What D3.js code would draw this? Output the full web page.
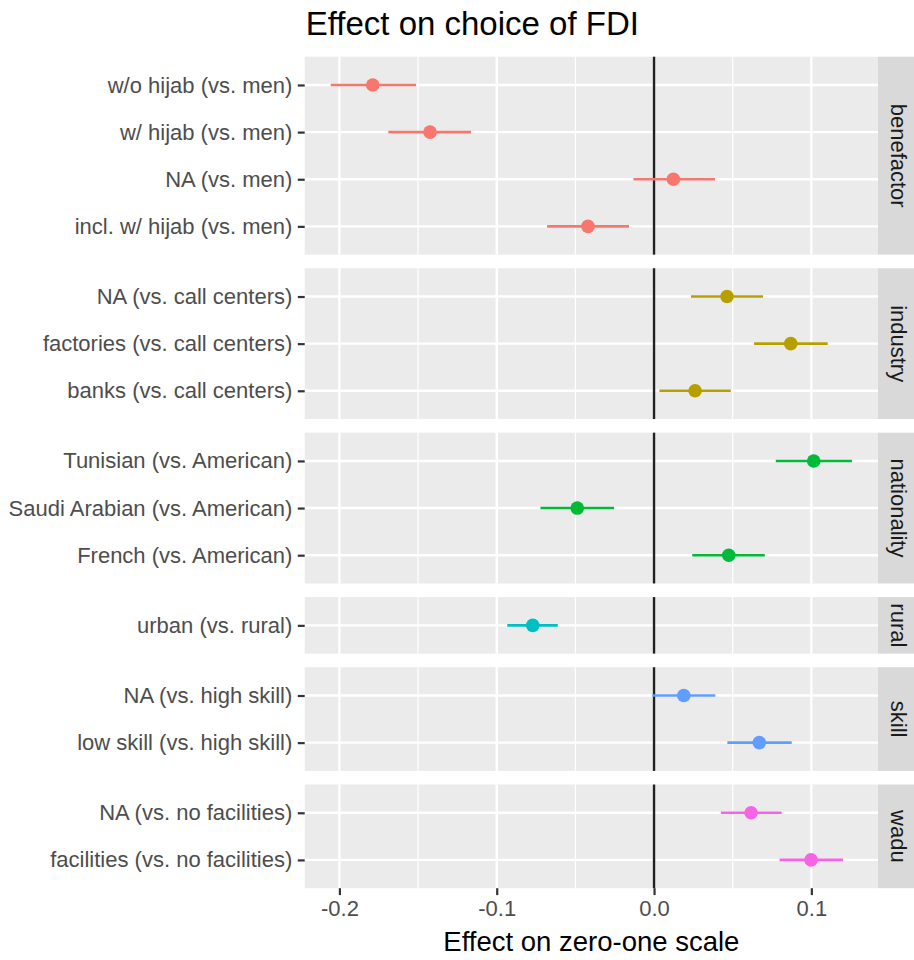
<!DOCTYPE html>
<html>
<head>
<meta charset="utf-8">
<script src="https://cdn.jsdelivr.net/npm/d3@7"></script>
<style>
  body { margin: 0; background: #fff; }
  svg { display: block; font-family: "Liberation Sans", Arial, sans-serif; }
</style>
</head>
<body>
<svg id="chart" width="914" height="960"></svg>
<script>
// ---- Data ----
const facets = ["benefactor", "industry", "nationality", "rural", "skill", "wadu"];
const facetColors = ["#F8766D", "#B79F00", "#00BA38", "#00BFC4", "#619CFF", "#F564E3"];

const benefactorLabels = ["w/o hijab (vs. men)", "w/ hijab (vs. men)", "NA (vs. men)", "incl. w/ hijab (vs. men)"];
const benefactorEst  = [-0.1788, -0.1424, 0.0123, -0.0420];
const benefactorLow  = [-0.2055, -0.1689, -0.0131, -0.0680];
const benefactorHigh = [-0.1513, -0.1163, 0.0388, -0.0159];

const industryLabels = ["NA (vs. call centers)", "factories (vs. call centers)", "banks (vs. call centers)"];
const industryEst  = [0.0464, 0.0869, 0.0261];
const industryLow  = [0.0235, 0.0636, 0.0034];
const industryHigh = [0.0693, 0.1104, 0.0488];

const nationalityLabels = ["Tunisian (vs. American)", "Saudi Arabian (vs. American)", "French (vs. American)"];
const nationalityEst  = [0.1015, -0.0488, 0.0475];
const nationalityLow  = [0.0774, -0.0722, 0.0243];
const nationalityHigh = [0.1258, -0.0254, 0.0704];

const ruralLabels = ["urban (vs. rural)"];
const ruralEst  = [-0.0771];
const ruralLow  = [-0.0933];
const ruralHigh = [-0.0612];

const skillLabels = ["NA (vs. high skill)", "low skill (vs. high skill)"];
const skillEst  = [0.0189, 0.0669];
const skillLow  = [-0.0011, 0.0466];
const skillHigh = [0.0390, 0.0875];

const waduLabels = ["NA (vs. no facilities)", "facilities (vs. no facilities)"];
const waduEst  = [0.0617, 0.0998];
const waduLow  = [0.0425, 0.0798];
const waduHigh = [0.0811, 0.1202];

const xTicks = [-0.2, -0.1, 0.0, 0.1];
const xMinorTicks = [-0.15, -0.05, 0.05];

const titleText = "Effect on choice of FDI";
const xTitleText = "Effect on zero-one scale";

// ---- Build panels ----
const groups = [
  [benefactorLabels, benefactorEst, benefactorLow, benefactorHigh],
  [industryLabels, industryEst, industryLow, industryHigh],
  [nationalityLabels, nationalityEst, nationalityLow, nationalityHigh],
  [ruralLabels, ruralEst, ruralLow, ruralHigh],
  [skillLabels, skillEst, skillLow, skillHigh],
  [waduLabels, waduEst, waduLow, waduHigh]
].map((g, i) => ({
  facet: facets[i],
  color: facetColors[i],
  rows: g[0].map((lab, j) => ({label: lab, est: g[1][j], low: g[2][j], high: g[3][j]}))
}));

// ---- Layout ----
const svg = d3.select("#chart");
const panelLeft = 304.7, panelRight = 878;
const panelTop = 56.7, panelBottom = 888.2;
const gap = 13.6;
const stripW = 44;
const pad = 0.6;

const allLow = d3.min(groups, g => d3.min(g.rows, r => r.low));
const allHigh = d3.max(groups, g => d3.max(g.rows, r => r.high));
const span = allHigh - allLow;
const x = d3.scaleLinear()
  .domain([allLow - 0.05 * span, allHigh + 0.05 * span])
  .range([panelLeft, panelRight]);

const units = groups.map(g => g.rows.length - 1 + 2 * pad);
const totalUnits = d3.sum(units);
const unitPx = (panelBottom - panelTop - gap * (groups.length - 1)) / totalUnits;

let cursor = panelTop;
groups.forEach((g, i) => {
  const h = units[i] * unitPx;
  const top = cursor, bottom = cursor + h;
  cursor = bottom + gap;

  const y = d3.scalePoint()
    .domain(g.rows.map(r => r.label))
    .range([top, bottom])
    .padding(pad);

  const pg = svg.append("g");
  pg.append("rect")
    .attr("x", panelLeft).attr("y", top)
    .attr("width", panelRight - panelLeft).attr("height", h)
    .attr("fill", "#EBEBEB");

  pg.selectAll(".minor").data(xMinorTicks).join("line")
    .attr("x1", d => x(d)).attr("x2", d => x(d))
    .attr("y1", top).attr("y2", bottom)
    .attr("stroke", "#FFFFFF").attr("stroke-width", 1.2);
  pg.selectAll(".major").data(xTicks).join("line")
    .attr("x1", d => x(d)).attr("x2", d => x(d))
    .attr("y1", top).attr("y2", bottom)
    .attr("stroke", "#FFFFFF").attr("stroke-width", 2.4);
  pg.selectAll(".hgrid").data(g.rows).join("line")
    .attr("x1", panelLeft).attr("x2", panelRight)
    .attr("y1", d => y(d.label)).attr("y2", d => y(d.label))
    .attr("stroke", "#FFFFFF").attr("stroke-width", 2.4);

  pg.append("line")
    .attr("x1", x(0)).attr("x2", x(0))
    .attr("y1", top).attr("y2", bottom)
    .attr("stroke", "#222").attr("stroke-width", 2.4);

  pg.selectAll(".ci").data(g.rows).join("line")
    .attr("x1", d => x(d.low)).attr("x2", d => x(d.high))
    .attr("y1", d => y(d.label)).attr("y2", d => y(d.label))
    .attr("stroke", g.color).attr("stroke-width", 2.6);
  pg.selectAll(".pt").data(g.rows).join("circle")
    .attr("cx", d => x(d.est)).attr("cy", d => y(d.label))
    .attr("r", 6.8)
    .attr("fill", g.color);

  const ya = svg.append("g")
    .attr("transform", `translate(${panelLeft},0)`)
    .call(d3.axisLeft(y).tickSize(6.9).tickPadding(5.5));
  ya.select(".domain").remove();
  ya.selectAll(".tick line").attr("stroke", "#333333").attr("stroke-width", 2.2);
  ya.selectAll(".tick text")
    .attr("fill", "#4D4D4D")
    .style("font-size", "22px")
    .style("font-family", "'Liberation Sans', Arial, sans-serif");

  svg.append("rect")
    .attr("x", panelRight).attr("y", top)
    .attr("width", stripW).attr("height", h)
    .attr("fill", "#D9D9D9");
  svg.append("text")
    .attr("transform", `translate(${panelRight + 20},${(top + bottom) / 2}) rotate(90)`)
    .attr("text-anchor", "middle")
    .attr("dominant-baseline", "central")
    .attr("fill", "#1A1A1A")
    .style("font-size", "22px")
    .text(g.facet);
});

const fmt = d => d3.format(".1f")(d).replace("\u2212", "-");
const xa = svg.append("g")
  .attr("transform", `translate(0,${panelBottom})`)
  .call(d3.axisBottom(x).tickValues(xTicks).tickFormat(fmt).tickSize(6.9).tickPadding(5.5));
xa.select(".domain").remove();
xa.selectAll(".tick line").attr("stroke", "#333333").attr("stroke-width", 2.2);
xa.selectAll(".tick text")
  .attr("fill", "#4D4D4D")
  .style("font-size", "22px")
  .style("font-family", "'Liberation Sans', Arial, sans-serif");

svg.append("text")
  .attr("x", (panelLeft + panelRight) / 2)
  .attr("y", 951)
  .attr("text-anchor", "middle")
  .attr("fill", "#000")
  .style("font-size", "27.5px")
  .text(xTitleText);

svg.append("text")
  .attr("x", panelLeft + 1)
  .attr("y", 35)
  .attr("fill", "#000")
  .style("font-size", "33px")
  .text(titleText);
</script>
</body>
</html>
